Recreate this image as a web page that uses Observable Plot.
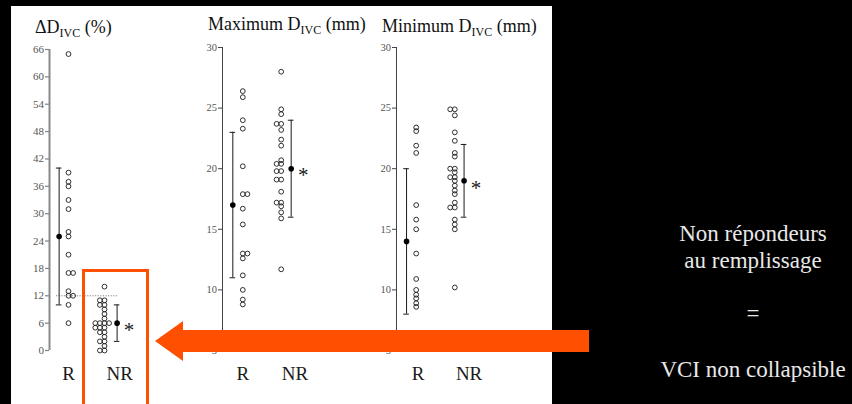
<!DOCTYPE html>
<html>
<head>
<meta charset="utf-8">
<script src="https://cdn.jsdelivr.net/npm/d3@7"></script>
<script src="https://cdn.jsdelivr.net/npm/@observablehq/plot@0.6"></script>
<style>
  html, body { margin: 0; padding: 0; background: #000; }
  #stage { position: relative; width: 852px; height: 404px; background: #000; overflow: hidden; font-family: "Liberation Serif", "DejaVu Serif", serif; }
  #paper { position: absolute; left: 11px; top: 6px; width: 541px; height: 398px; background: #fff; }
  .panel { position: absolute; top: 0; }
  .panel svg, svg.panelsvg { background: transparent !important; max-width: none !important; }
  #overlay { position: absolute; left: 0; top: 0; pointer-events: none; }
</style>
</head>
<body>
<div id="stage"><div id="paper"></div></div>
<script>
// ---------- data ----------
const groups = ["R", "NR"];
const deltaTicks = [0, 6, 12, 18, 24, 30, 36, 42, 48, 54, 60, 66];
const diamTicks = [5, 10, 15, 20, 25, 30];

// ΔD IVC (%)
const deltaR  = [65, 39, 37, 36, 33, 31, 26, 25, 21, 17, 17, 13, 12, 12, 10, 6];
const deltaNR = [14, 11, 11, 10, 10, 9, 8, 7, 6, 6, 6, 6, 5, 5, 5, 4, 4, 3, 2, 2, 1, 0, 0];
const deltaMean = [25, 6];
const deltaSD   = [15, 4];
const deltaThreshold = [12];

// Maximum D IVC (mm)
const maxR  = [26.4, 25.9, 24.0, 23.3, 20.2, 17.9, 17.9, 16.7, 15.4, 13.0, 13.0, 12.6, 11.2, 10.0, 9.2, 8.8];
const maxNR = [28.0, 24.9, 24.5, 23.7, 23.7, 23.2, 22.4, 21.9, 20.7, 20.4, 20.4, 19.8, 19.8, 19.1, 19.1, 18.1, 17.2, 17.2, 16.9, 16.4, 15.9, 11.7];
const maxMean = [17, 20];
const maxSD   = [6, 4];

// Minimum D IVC (mm)
const minR  = [23.4, 23.1, 21.9, 21.3, 17.0, 15.8, 15.0, 13.0, 10.9, 10.0, 9.6, 9.3, 8.9, 8.6];
const minNR = [24.9, 24.9, 24.4, 23.0, 22.3, 21.3, 21.0, 20.0, 20.0, 19.7, 19.3, 19.3, 19.0, 18.6, 18.2, 17.9, 17.2, 16.8, 16.8, 15.8, 15.4, 15.0, 10.2];
const minMean = [14, 19];
const minSD   = [6, 3];

// ---------- drawing ----------
const SERIF = "'Liberation Serif', 'DejaVu Serif', serif";
const INK = "#1a1a1a";
const ORANGE = "#fe5000";
const stage = document.getElementById("stage");

// side-by-side placement for equal values (R spreads right, NR spreads left)
const patterns = [[0, 1, -1, 2, -2], [0, -1, -2, 1, 2]];
function spread(vals, g, step) {
  const seen = new Map();
  return vals.map(v => {
    const k = seen.get(v) || 0;
    seen.set(v, k + 1);
    return {x: g + 1 + patterns[g][k % 5] * step, y: v};
  });
}

function panel(cfg) {
  const {left, width, marginLeft, spacing, rCol, axisX, yDomain, ticks, marginTop,
         seriesR, seriesNR, mean, sd, meanOffset, labelOffset, axisStroke, axisWidth,
         tickColor, tickFont, threshold} = cfg;
  const start = 1 - (rCol - axisX) / spacing;
  const end = start + (width - marginLeft) / spacing;
  const step = 4.6 / spacing;
  const points = [...spread(seriesR, 0, step), ...spread(seriesNR, 1, step)];
  const stats = groups.map((g, i) => ({x: i + 1 + meanOffset[i], m: mean[i], lo: mean[i] - sd[i], hi: mean[i] + sd[i]}));
  const cap = 2.8 / spacing;
  const marks = [
    Plot.ruleX([start], {x: d => d, y1: yDomain[0], y2: yDomain[1], stroke: axisStroke, strokeWidth: axisWidth}),
    Plot.axisY({ticks, tickSize: 4, tickPadding: 1.5, fontSize: tickFont, stroke: axisStroke, fill: tickColor, strokeWidth: Math.min(axisWidth, 1.3)}),
  ];
  if (threshold) {
    marks.push(Plot.ruleY(threshold, {y: d => d, x1: threshold.x1, x2: threshold.x2, stroke: "#777", strokeWidth: 0.9, strokeDasharray: "1.2,1.4"}));
  }
  marks.push(
    Plot.dot(points, {x: "x", y: "y", r: 2.4, stroke: INK, strokeWidth: 0.9, fill: "none"}),
    Plot.ruleX(stats, {x: "x", y1: "lo", y2: "hi", stroke: INK, strokeWidth: 1}),
    Plot.ruleY(stats, {y: "hi", x1: d => d.x - cap, x2: d => d.x + cap, stroke: INK, strokeWidth: 1}),
    Plot.ruleY(stats, {y: "lo", x1: d => d.x - cap, x2: d => d.x + cap, stroke: INK, strokeWidth: 1}),
    Plot.dot(stats, {x: "x", y: "m", r: 2.8, fill: "#000"}),
    Plot.text(stats.slice(1), {x: "x", y: "m", text: () => "*", dx: 12, dy: 7, fontSize: 21, fill: INK}),
    Plot.text(groups, {x: (d, i) => i + 1 + labelOffset[i], frameAnchor: "bottom", dy: 29, fontSize: 19, fill: INK, text: d => d})
  );
  const chart = Plot.plot({
    width, height: 404,
    marginLeft, marginRight: 0, marginTop, marginBottom: 54,
    x: {type: "linear", domain: [start, end], axis: null},
    y: {type: "linear", domain: yDomain, axis: null},
    style: {background: "transparent", fontFamily: SERIF, overflow: "visible"},
    marks
  });
  chart.classList.add("panelsvg");
  const wrap = document.createElement("div");
  wrap.className = "panel";
  wrap.style.left = left + "px";
  wrap.appendChild(chart);
  stage.appendChild(wrap);
}

const thr = deltaThreshold.slice();
thr.x1 = 0.667; thr.x2 = 2.36;

panel({left: 0, width: 140, marginLeft: 49, spacing: 36, rCol: 68, axisX: 49,
       yDomain: [0, 66], ticks: deltaTicks, marginTop: 49,
       seriesR: deltaR, seriesNR: deltaNR, mean: deltaMean, sd: deltaSD,
       meanOffset: [-0.26, 0.35], labelOffset: [0, 0.42],
       axisStroke: "#8a8a8a", axisWidth: 2, tickColor: "#555", tickFont: 11, threshold: thr});

panel({left: 180, width: 140, marginLeft: 42, spacing: 38.4, rCol: 242.3, axisX: 222,
       yDomain: [5, 30], ticks: diamTicks, marginTop: 47,
       seriesR: maxR, seriesNR: maxNR, mean: maxMean, sd: maxSD,
       meanOffset: [-0.26, 0.26], labelOffset: [0, 0.36],
       axisStroke: "#444", axisWidth: 1, tickColor: "#555", tickFont: 10.5});

panel({left: 355, width: 140, marginLeft: 41, spacing: 38.6, rCol: 415.7, axisX: 396,
       yDomain: [5, 30], ticks: diamTicks, marginTop: 47,
       seriesR: minR, seriesNR: minNR, mean: minMean, sd: minSD,
       meanOffset: [-0.25, 0.24], labelOffset: [0.05, 0.37],
       axisStroke: "#444", axisWidth: 1, tickColor: "#555", tickFont: 10.5});

// ---------- overlay: titles, highlight box, arrow, note ----------
const ov = d3.create("svg").attr("id", "overlay").attr("width", 852).attr("height", 404)
  .style("font-family", SERIF);

function title(x, y, main, tail) {
  const t = ov.append("text").attr("x", x).attr("y", y).attr("font-size", 18).attr("fill", "#111");
  t.append("tspan").text(main);
  t.append("tspan").attr("font-size", 12).attr("dy", 4).text("IVC");
  t.append("tspan").attr("dy", -4).text(tail);
}
title(35, 32.5, "\u0394D", " (%)");
title(208, 30, "Maximum D", " (mm)");
title(382, 32, "Minimum D", " (mm)");

ov.append("rect").attr("x", 83.5).attr("y", 270.5).attr("width", 64).attr("height", 160)
  .attr("fill", "none").attr("stroke", ORANGE).attr("stroke-width", 3);

ov.append("polygon")
  .attr("points", "589,330 183,330 183,321 155,341 183,361 183,352 589,352")
  .attr("fill", ORANGE);

const note = [["Non répondeurs", 240.5], ["au remplissage", 268], ["=", 321], ["VCI non collapsible", 377]];
ov.selectAll("text.note").data(note).join("text").attr("class", "note")
  .attr("x", 753).attr("y", d => d[1]).attr("text-anchor", "middle")
  .attr("font-size", 23).attr("fill", "#e8e8e8").text(d => d[0]);

stage.appendChild(ov.node());
</script>
</body>
</html>
